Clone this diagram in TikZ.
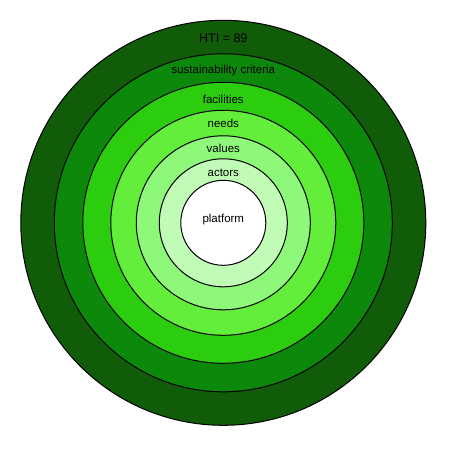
\documentclass[tikz,border=0pt]{standalone}
\usepackage{fontspec}
\setmainfont{Liberation Sans}
\usepackage{xcolor}
\definecolor{ringA}{RGB}{16,92,8}
\definecolor{ringB}{RGB}{12,136,10}
\definecolor{ringC}{RGB}{44,204,14}
\definecolor{ringD}{RGB}{100,238,60}
\definecolor{ringE}{RGB}{142,248,122}
\definecolor{ringF}{RGB}{192,252,182}

\begin{document}
\begin{tikzpicture}[x=1pt,y=-1pt,
  lbl/.style={font=\fontsize{11.5}{13}\selectfont, inner sep=0pt}]
  \useasboundingbox (0,0) rectangle (450,450);
  \coordinate (c) at (223.3,222.8);
  \foreach \r/\col in {202.5/ringA,169/ringB,140.5/ringC,112.5/ringD,87/ringE,64/ringF,42.5/white}
    \draw[fill=\col, line width=1pt] (c) circle (\r);
  \node[lbl, font=\fontsize{12.5}{14}\selectfont] (hti) at (223.3,38.3) {HTI = 89};
  \node[lbl] (crit) at (223.3,70.3) {sustainability criteria};
  \node[lbl] (fac) at (223.3,99.7) {facilities};
  \node[lbl] (needs) at (223.3,123.7) {needs};
  \node[lbl] (val) at (223.3,148.3) {values};
  \node[lbl] (act) at (223.3,173.3) {actors};
  \node[lbl] (plat) at (223.3,220) {platform};
\end{tikzpicture}
\end{document}
